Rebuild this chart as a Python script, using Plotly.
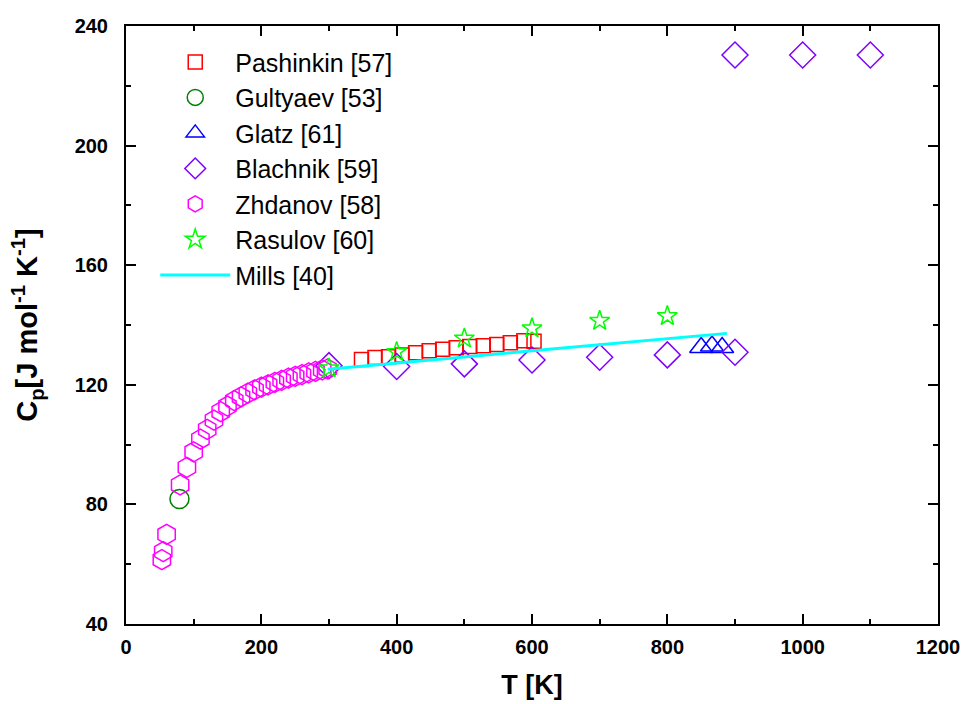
import plotly.graph_objects as go

# ---- data ----
pashinkin_T = [348, 368, 388, 408, 428, 448, 468, 488, 508, 528, 548, 568, 588, 603]
pashinkin_Cp = [128.5, 129.1, 129.4, 130.0, 130.7, 131.4, 131.9, 132.4, 132.8, 133.1, 133.5, 134.1, 134.7, 134.6]

gultyaev_T = [79]
gultyaev_Cp = [81.8]

glatz_T = [850, 866, 881]
glatz_Cp = [132.5, 133.0, 132.5]

blachnik_T = [300, 400, 500, 600, 700, 800, 900, 900, 1000, 1100]
blachnik_Cp = [126.4, 126.1, 127.0, 128.3, 129.2, 130.0, 130.9, 230.3, 230.3, 230.3]

zhdanov_T = [53, 55, 60, 80, 90, 100, 110, 120, 130, 140, 150, 160, 170, 180, 190,
             200, 210, 220, 230, 240, 250, 260, 270, 280, 290, 298]
zhdanov_Cp = [61.5, 64.2, 70.0, 86.5, 92.4, 97.6, 101.8, 105.1, 108.2, 111.0, 112.9,
              114.7, 116.0, 117.2, 118.3, 119.2, 120.0, 120.8, 121.5, 122.2, 122.8,
              123.4, 124.0, 124.5, 125.0, 125.3]

rasulov_T = [300, 400, 500, 600, 700, 800]
rasulov_Cp = [125.5, 131.0, 135.5, 138.9, 141.4, 143.0]

mills_T = [298, 400, 500, 600, 700, 800, 888]
mills_Cp = [125.2, 127.2, 129.3, 131.4, 133.4, 135.4, 137.2]

x_ticks = [0, 200, 400, 600, 800, 1000, 1200]
y_ticks = [40, 80, 120, 160, 200, 240]

fig = go.Figure()

def mk(name, x, y, symbol, size, color):
    fig.add_trace(go.Scatter(
        x=x, y=y, name=name, mode="markers",
        marker=dict(symbol=symbol, size=size, color=color, line=dict(width=1.5, color=color)),
    ))

mk("Pashinkin [57]", pashinkin_T, pashinkin_Cp, "square-open", 14, "#FF0000")
mk("Gultyaev [53]", gultyaev_T, gultyaev_Cp, "circle-open", 19, "#008000")
mk("Glatz [61]", glatz_T, glatz_Cp, "triangle-up-open", 20, "#0000FF")
mk("Blachnik [59]", blachnik_T, blachnik_Cp, "diamond-open", 20, "#8000FF")
mk("Zhdanov [58]", zhdanov_T, zhdanov_Cp, "hexagon-open", 20, "#FF00FF")
mk("Rasulov [60]", rasulov_T, rasulov_Cp, "star-open", 15, "#00FF00")
fig.add_trace(go.Scatter(x=mills_T, y=mills_Cp, name="Mills [40]", mode="lines",
                         line=dict(color="#00FFFF", width=3)))

axis_common = dict(
    showline=True, linecolor="black", linewidth=2, mirror="ticks",
    ticks="inside", tickwidth=1.5, tickcolor="black", ticklen=10,
    showgrid=False, zeroline=False, automargin=False,
    tickfont=dict(family="Liberation Sans, Arial", size=20, color="black", weight="bold"),
)

fig.update_xaxes(
    range=[0, 1200], tickvals=x_ticks, ticktext=[str(v) for v in x_ticks],
    minor=dict(dtick=100, ticks="inside", ticklen=5, tickwidth=1.5, tickcolor="black"),
    title=dict(text="T [K]", font=dict(family="Liberation Sans, Arial", size=27, color="black", weight="bold"),
               standoff=18),
    ticklabelstandoff=4,
    **axis_common,
)
fig.update_yaxes(
    range=[40, 240], tickvals=y_ticks, ticktext=[str(v) for v in y_ticks],
    minor=dict(dtick=20, ticks="inside", ticklen=5, tickwidth=1.5, tickcolor="black"),
    title=dict(text="C<sub>p</sub>[J mol<sup>-1</sup> K<sup>-1</sup>]",
               font=dict(family="Liberation Sans, Arial", size=29, color="black", weight="bold"),
               standoff=28),
    ticklabelstandoff=12,
    **axis_common,
)

fig.update_layout(
    width=967, height=704,
    margin=dict(l=126, r=29, t=26, b=80),
    plot_bgcolor="white", paper_bgcolor="white",
    showlegend=True,
    legend=dict(
        x=0.036, y=0.978, xanchor="left", yanchor="top",
        bgcolor="rgba(0,0,0,0)", borderwidth=0,
        font=dict(family="Liberation Sans, Arial", size=25, color="black"),
        itemwidth=70, tracegroupgap=0,
    ),
)

fig.write_html("out.html")
